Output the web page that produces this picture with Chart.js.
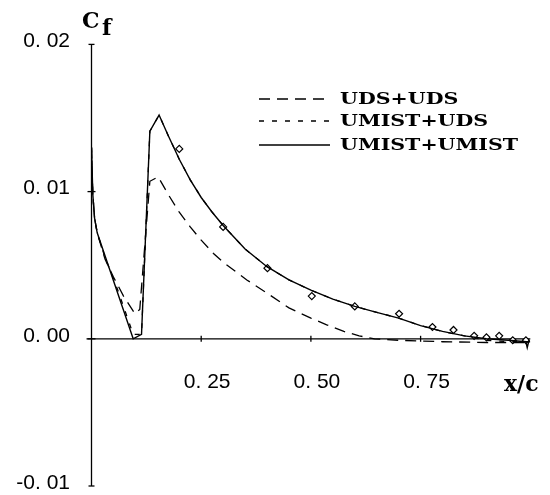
<!DOCTYPE html>
<html>
<head>
<meta charset="utf-8">
<script src="https://cdn.jsdelivr.net/npm/chart.js@4"></script>
<style>
html, body { margin: 0; padding: 0; background: #fff; }
</style>
</head>
<body>
<canvas id="cfChart" width="550" height="495"></canvas>
<script>
// axis ticks
const xTicks = [0.25, 0.5, 0.75];
const xTickLabels = ["0. 25", "0. 50", "0. 75"];
const yTicks = [0.02, 0.01, 0.0, -0.01];
const yTickLabels = ["0. 02", "0. 01", "0. 00", "-0. 01"];

// UDS+UDS (long dashes)
const udsX = [0, 0.003, 0.007, 0.013, 0.031, 0.05, 0.073, 0.099, 0.11, 0.133, 0.152, 0.175, 0.2, 0.225, 0.25, 0.278, 0.3, 0.354, 0.4, 0.45, 0.5, 0.536, 0.575, 0.61, 0.645, 0.7, 0.8, 0.9, 1.0];
const udsY = [0.013, 0.0098, 0.0082, 0.0072, 0.0054, 0.0042, 0.0029, 0.0017, 0.002, 0.0107, 0.011, 0.0098, 0.0086, 0.0076, 0.0067, 0.0058, 0.0052, 0.004, 0.0031, 0.0021, 0.0014, 0.00095, 0.0005, 0.0002, 0.0, -0.0001, -0.0002, -0.00025, -0.00025];

// UMIST+UDS (short dashes) - lies on the solid curve almost everywhere
const umistUdsX = [0, 0.003, 0.007, 0.013, 0.03, 0.06, 0.095, 0.114, 0.133, 0.154, 0.175, 0.2, 0.225, 0.25, 0.275, 0.3, 0.35, 0.4, 0.45, 0.5, 0.55, 0.6, 0.65, 0.7, 0.75, 0.8, 0.85, 0.9, 0.95, 1.0];
const umistUdsY = [0.013, 0.0098, 0.0082, 0.0072, 0.0056, 0.0033, 0.0003, 0.0003, 0.0141, 0.0152, 0.0138, 0.0122, 0.0108, 0.0096, 0.0086, 0.0077, 0.0061, 0.0049, 0.004, 0.0033, 0.0027, 0.0022, 0.0018, 0.0014, 0.0009, 0.0005, 0.0002, -0.0001, -0.0002, -0.0002];

// UMIST+UMIST (solid)
const umistX = [0, 0.003, 0.007, 0.013, 0.095, 0.114, 0.133, 0.154, 0.175, 0.2, 0.225, 0.25, 0.275, 0.3, 0.35, 0.4, 0.45, 0.5, 0.55, 0.6, 0.65, 0.7, 0.75, 0.8, 0.85, 0.9, 0.95, 0.99, 0.993, 0.997];
const umistY = [0.013, 0.0098, 0.0082, 0.0072, 0.0, 0.0003, 0.0141, 0.0152, 0.0138, 0.0122, 0.0108, 0.0096, 0.0086, 0.0077, 0.0061, 0.0049, 0.004, 0.0033, 0.0027, 0.0022, 0.0018, 0.0014, 0.0009, 0.0005, 0.0002, 0.0, -0.0001, -0.0002, -0.0006, -0.0001];

// experiment (diamonds)
const expX = [0.2, 0.3, 0.401, 0.502, 0.6, 0.701, 0.777, 0.825, 0.872, 0.9, 0.929, 0.96, 0.99];
const expY = [0.0129, 0.0076, 0.0048, 0.0029, 0.0022, 0.0017, 0.0008, 0.0006, 0.0002, 0.0001, 0.0002, -0.0001, -0.0001];

const legendNames = ["UDS+UDS", "UMIST+UDS", "UMIST+UMIST"];
const legendDash = [[11, 7], [5, 8], []];

function pts(xs, ys) {
    return xs.map((v, i) => ({ x: v, y: ys[i] }));
}

function line(ctx, x1, y1, x2, y2) {
    ctx.beginPath();
    ctx.moveTo(x1, y1);
    ctx.lineTo(x2, y2);
    ctx.stroke();
}

// axes, tick marks and labels drawn on the chart's own scales
const axesPlugin = {
    id: "axes",
    beforeDatasetsDraw(chart) {
        const ctx = chart.ctx;
        const xs = chart.scales.x, ys = chart.scales.y;
        const x0 = xs.getPixelForValue(0);
        const x1 = xs.getPixelForValue(1);
        const yZero = ys.getPixelForValue(0);
        const yTop = ys.getPixelForValue(0.02);
        const yBot = ys.getPixelForValue(-0.01);

        ctx.save();
        ctx.strokeStyle = "#000";
        ctx.lineWidth = 1.3;
        line(ctx, x0, yTop, x0, yBot);
        line(ctx, x0 - 5, yZero, x1, yZero);

        // y ticks: caps at ends, crosses inside
        yTicks.forEach((v) => {
            const p = ys.getPixelForValue(v);
            if (v === 0.02 || v === -0.01) line(ctx, x0 - 3, p, x0 + 3, p);
            else line(ctx, x0 - 4, p, x0 + 4, p);
        });
        xTicks.forEach((v) => {
            const p = xs.getPixelForValue(v);
            line(ctx, p, yZero - 3, p, yZero + 3);
        });

        ctx.fillStyle = "#000";
        ctx.font = "21px 'Liberation Sans'";
        ctx.textBaseline = "middle";
        ctx.textAlign = "right";
        yTicks.forEach((v, i) => {
            ctx.fillText(yTickLabels[i], 70, ys.getPixelForValue(v) - 3);
        });
        ctx.textAlign = "center";
        ctx.textBaseline = "alphabetic";
        xTicks.forEach((v, i) => {
            ctx.fillText(xTickLabels[i], xs.getPixelForValue(v) + 6, 388);
        });

        // axis titles
        ctx.textAlign = "left";
        ctx.font = "bold 22px 'DejaVu Serif'";
        ctx.fillText("C", 82, 28);
        ctx.fillText("f", 102, 35);
        ctx.fillText("x/c", 504, 391);
        ctx.restore();
    },
    afterDraw(chart) {
        const ctx = chart.ctx;
        ctx.save();
        ctx.strokeStyle = "#000";
        ctx.fillStyle = "#000";
        ctx.lineWidth = 1.5;
        ctx.font = "bold 17px 'DejaVu Serif'";
        const sx = 178 / ctx.measureText(legendNames[2]).width;
        const rows = [99, 121, 145];
        legendNames.forEach((name, i) => {
            ctx.setLineDash(legendDash[i]);
            line(ctx, 259, rows[i], 330, rows[i]);
            ctx.setLineDash([]);
            ctx.save();
            ctx.translate(340, rows[i] + 5);
            ctx.scale(sx, 1);
            ctx.fillText(name, 0, 0);
            ctx.restore();
        });
        ctx.restore();
    }
};

new Chart(document.getElementById("cfChart"), {
    type: "line",
    data: {
        datasets: [
            {
                label: legendNames[0],
                data: pts(udsX, udsY),
                borderColor: "#000",
                borderWidth: 1.3,
                borderDash: legendDash[0],
                pointRadius: 0,
                tension: 0
            },
            {
                label: legendNames[1],
                data: pts(umistUdsX, umistUdsY),
                borderColor: "#000",
                borderWidth: 1.3,
                borderDash: legendDash[1],
                pointRadius: 0,
                tension: 0
            },
            {
                label: legendNames[2],
                data: pts(umistX, umistY),
                borderColor: "#000",
                borderWidth: 1.4,
                pointRadius: 0,
                tension: 0
            },
            {
                label: "Exp.",
                data: pts(expX, expY),
                showLine: false,
                pointStyle: "rectRot",
                pointRadius: 3.5,
                pointBorderWidth: 1.2,
                pointBorderColor: "#000",
                pointBackgroundColor: "#fff"
            }
        ]
    },
    options: {
        responsive: false,
        animation: false,
        devicePixelRatio: 1,
        layout: { padding: { left: 91.5, right: 19.7, top: 44.4, bottom: 9 } },
        scales: {
            x: { type: "linear", min: 0, max: 1, display: false },
            y: { type: "linear", min: -0.01, max: 0.02, display: false }
        },
        plugins: {
            legend: { display: false },
            tooltip: { enabled: false }
        }
    },
    plugins: [axesPlugin]
});
</script>
</body>
</html>
